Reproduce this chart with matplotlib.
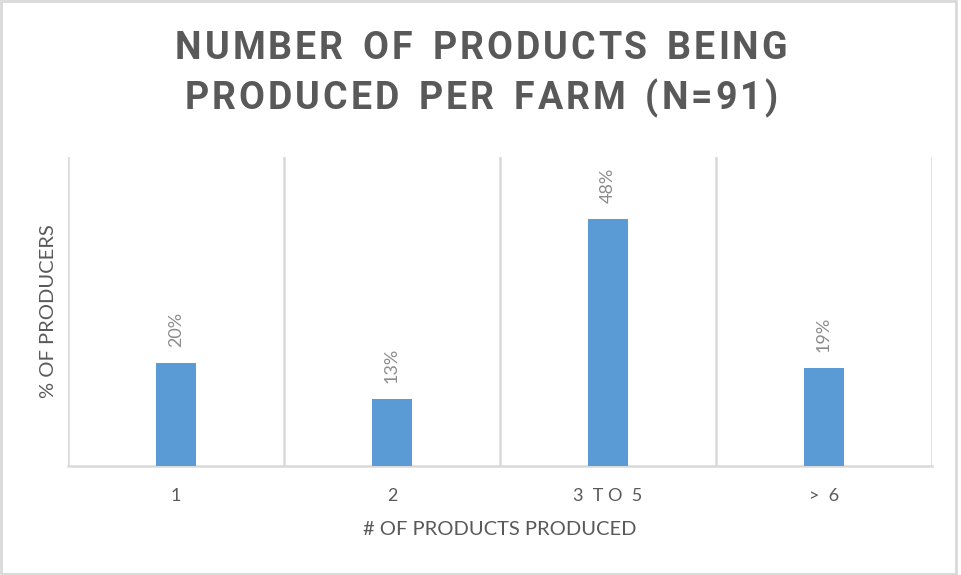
import matplotlib
matplotlib.use('Agg')
import matplotlib.pyplot as plt
from matplotlib.patches import Rectangle
from matplotlib.font_manager import FontProperties

# chart values
categories = ['1', '2', '3  T O  5', '>  6']
shares = [20, 13, 48, 19]
bar_labels = ['20%', '13%', '48%', '19%']

title_lines = ['NUMBER OF PRODUCTS BEING', 'PRODUCED PER FARM (N=91)']

dark = '#595959'
grid = '#d9d9d9'
blue = '#5b9bd5'

plt.rcParams['font.family'] = ['Lato', 'DejaVu Sans']

fig = plt.figure(figsize=(9.62, 5.75), dpi=100)
ax = fig.add_axes([0.0707, 0.1896, 0.8981, 0.5374])

x = list(range(len(categories)))
bars = ax.bar(x, shares, width=0.185, color=blue, zorder=3)

for rect, lab in zip(bars, bar_labels):
    ax.annotate(lab, (rect.get_x() + rect.get_width() / 2, rect.get_height()),
                xytext=(0, 11.5), textcoords='offset points',
                rotation=90, ha='center', va='bottom',
                fontsize=13, color='#8c8c8c')

ax.set_xlim(-0.5, len(categories) - 0.5)
ax.set_ylim(0, 60)
ax.set_yticks([])
ax.set_xticks(x)
ax.set_xticklabels(categories, fontsize=13, color=dark)
ax.tick_params(axis='x', length=0, pad=16)

# category separators
ax.set_xticks([i - 0.5 for i in range(len(categories) + 1)], minor=True)
ax.tick_params(axis='x', which='minor', length=0)
ax.grid(axis='x', which='minor', color=grid, linewidth=1.8, zorder=0)

for side in ['top', 'right', 'left']:
    ax.spines[side].set_visible(False)
ax.spines['bottom'].set_color(grid)
ax.spines['bottom'].set_linewidth(1.8)

ax.set_xlabel('# OF PRODUCTS PRODUCED', fontsize=14.5, color=dark, labelpad=12)
ax.set_ylabel('% OF PRODUCERS', fontsize=14.5, color=dark, labelpad=8)

# title with letter spacing, placed glyph by glyph
renderer = fig.canvas.get_renderer()
tprop = FontProperties(family='Roboto', weight='bold', size=27)
word_gap = 20
W, H = fig.bbox.width, fig.bbox.height


def glyph_widths(line):
    return [0 if ch == ' ' else renderer.get_text_width_height_descent(ch, tprop, ismath=False)[0]
            for ch in line]


# pick tracking so the first line spans about 612 px like the reference
g0 = glyph_widths(title_lines[0])
words0 = title_lines[0].split(' ')
n_inner = sum(len(w) - 1 for w in words0)
track = (612 - sum(g0) - word_gap * (len(words0) - 1)) / n_inner

for line, yc in zip(title_lines, [48.5, 98.5]):
    g = glyph_widths(line)
    words = line.split(' ')
    total = sum(g) + track * sum(len(w) - 1 for w in words) + word_gap * (len(words) - 1)
    xpos = W / 2 - total / 2
    for i, (ch, w) in enumerate(zip(line, g)):
        if ch == ' ':
            continue
        fig.text(xpos / W, 1 - yc / H, ch, fontproperties=tprop, color=dark,
                 ha='left', va='center')
        nxt = line[i + 1] if i + 1 < len(line) else ''
        xpos += w + (word_gap if nxt == ' ' else track)

# outer chart border
fig.patches.append(Rectangle((0.001, 0.001), 0.993, 0.997, transform=fig.transFigure,
                             fill=False, edgecolor=grid, linewidth=2))

fig.savefig('out.png', dpi=100, facecolor='white')
